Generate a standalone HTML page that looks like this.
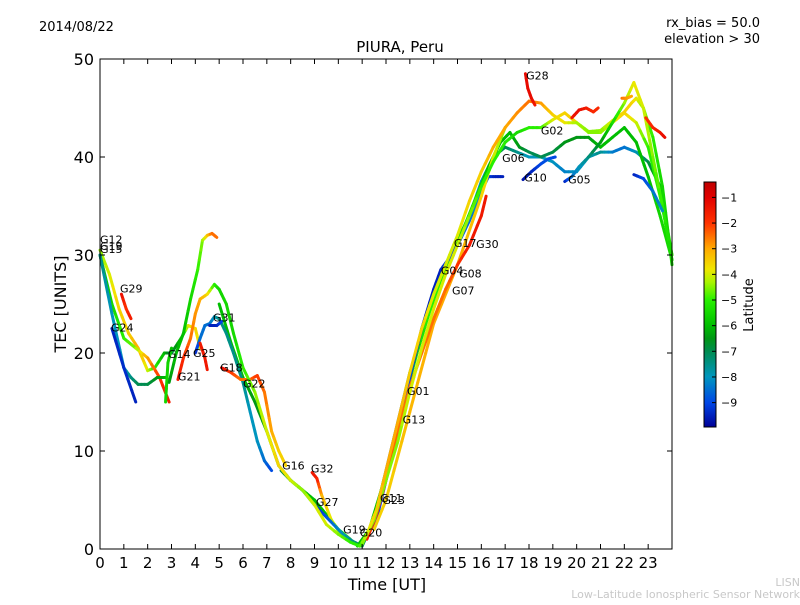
<!DOCTYPE html>
<html><head><meta charset="utf-8"><style>
body{margin:0;background:#fff;}
svg text{font-family:"DejaVu Sans","Liberation Sans",sans-serif;}
</style></head><body>
<svg id="chart" width="800" height="600" viewBox="0 0 800 600">
<defs>
<linearGradient id="jet" x1="0" y1="1" x2="0" y2="0"></linearGradient>
</defs>
<rect x="0" y="0" width="800" height="600" fill="#fff"/>
<text x="39" y="31" font-size="13">2014/08/22</text>
<text x="400" y="52" font-size="15" text-anchor="middle">PIURA, Peru</text>
<text x="760" y="27" font-size="13" text-anchor="end">rx_bias = 50.0</text>
<text x="760" y="43" font-size="13" text-anchor="end">elevation &gt; 30</text>
<g id="marks"></g>
<g id="labels"></g>
<rect x="100" y="59" width="572" height="490" fill="none" stroke="#000" stroke-width="1"/>
<g id="axes"></g>
<text x="387" y="590" font-size="16" text-anchor="middle">Time [UT]</text>
<text x="66" y="304" font-size="16" text-anchor="middle" transform="rotate(-90 66 304)">TEC [UNITS]</text>
<rect x="704" y="182" width="12" height="245" fill="url(#jet)" stroke="#000" stroke-width="1"/>
<g id="cbticks"></g>
<text x="753" y="305" font-size="13" text-anchor="middle" transform="rotate(-90 753 305)">Latitude</text>
<text x="800" y="586" font-size="11" fill="#c8c8c8" text-anchor="end">LISN</text>
<text x="800" y="598" font-size="11" fill="#c8c8c8" text-anchor="end">Low-Latitude Ionospheric Sensor Network</text>
</svg>
<script>
const xTicks=[0,1,2,3,4,5,6,7,8,9,10,11,12,13,14,15,16,17,18,19,20,21,22,23];
const yTicks=[0,10,20,30,40,50];
const cbTicks=[-1,-2,-3,-4,-5,-6,-7,-8,-9];
const g12T=[0,0.4,0.8,1.2,1.6,2.0,2.3,2.7,3.0,3.4,3.7,4.0,4.2],g12V=[30.5,28,24.5,22,20.5,18.2,18.5,20,20,21.5,22.8,22.5,20.5],g12L=[-4.5,-4,-3.5,-3.5,-3,-4,-5,-6,-7,-6,-4,-3.5,-4];
const g15T=[0,0.5,1,1.5,2,2.5,2.9],g15V=[30,25,21.5,20.5,19.5,17.5,15],g15L=[-6,-5.5,-5,-4.5,-3,-2,-1.5];
const g19T=[0,0.5,1,1.3,1.6,2,2.4,2.8],g19V=[30,24,18.5,17.5,16.8,16.8,17.5,17.5],g19L=[-7.5,-8,-8,-7.5,-7,-7,-6.5,-6];
const gDT=[2.75,2.85,3.0],gDV=[15,19,20.5],gDL=[-5.5,-5.5,-6];
const g24T=[0.5,1,1.5],g24V=[22.5,18.5,15],g24L=[-9.5,-9.3,-9.5];
const g29T=[0.9,1.1,1.3],g29V=[26,24.5,23.5],g29L=[-1.2,-2,-1.5];
const g21T=[3.27,3.5,3.8,4.0,4.2,4.5,4.8,5.0,5.3,5.6,6,6.5,7,7.5,8,8.5,9,9.5,10,10.5,10.9,11.2,11.6,12,12.5,13,13.5,14,14.5,15,15.5,16,16.5,17,17.5,18,18.5,19,19.5,20,20.5,21,21.5,22,22.3,22.5,22.8,23.2,23.6,24];
const g21V=[17.3,19.5,21.5,24,25.5,26,27,26.5,25,22,18.5,16,12,8.5,7,6,4.5,2.5,1.5,0.7,0.3,1.5,4,8,13,18,22.5,26,29,32,35.5,38.5,41,43,44.5,45.7,45.5,44.3,43.5,43.5,42.6,42.7,43.7,44.6,45.5,46,45,42,37,29];
const g21L=[-1.5,-1.8,-2.5,-2.8,-3,-3.5,-5,-5.5,-5.5,-5.5,-5,-4.5,-4,-3.5,-4,-4.5,-4,-4,-4.5,-5,-5,-4,-3.5,-3,-3,-3.5,-3.5,-4,-4,-4,-3.5,-3.5,-3,-3,-2.8,-2.5,-2.8,-3.5,-3.8,-4.3,-4.5,-4.5,-4,-3.5,-3.5,-3.8,-4.5,-5,-5.5,-5.5];
const g14T=[2.9,3.2,3.5,3.8,4.1,4.3,4.5,4.7,4.9],g14V=[17,20,22,25.5,28.5,31.5,32,32.2,31.8],g14L=[-6.5,-6,-6,-5.5,-5,-4.5,-3.5,-2.5,-2.5];
const g25T=[4.0,4.2,4.4,4.6,4.8,5.0,5.3,5.6,6.0,6.3,6.6,6.9,7.2],g25V=[20,21.5,22.8,23,23.7,23.5,22,20,17,14,11,9,8],g25L=[-9.5,-8.5,-8.5,-8.5,-8,-7.5,-7.5,-7.5,-7.5,-8,-8,-8.5,-9];
const g31T=[4.6,4.9,5.1],g31V=[22.8,22.8,23.2],g31L=[-9.5,-9.5,-9];
const gRT=[4.2,4.4,4.5],gRV=[21,19.5,18.3],gRL=[-1.5,-1.5,-1.5];
const g18T=[5.1,5.5,5.9,6.3,6.6,6.9,7.2,7.5,7.8],g18V=[18.5,18,17.3,17.3,17.7,16,12,10,8.5],g18L=[-1,-2,-2.5,-2.5,-2,-2.5,-3,-3.5,-3.5];
const g22T=[5.0,5.5,6.0,6.5,7.0,7.5,8.0,8.5,9.0],g22V=[25,21,17.5,15,12,8.5,7,6,4.5],g22L=[-6,-6,-6,-6.5,-6.5,-7,-7,-6.5,-6];
const g32T=[8.9,9.1,9.3,9.7,10.1,10.5,10.9],g32V=[7.8,7.2,5.5,3,1.5,0.8,0.3],g32L=[-1.5,-1.5,-3,-4,-4.5,-5,-5.5];
const g27T=[9.0,9.4,9.8,10.2,10.6,11.0],g27V=[4.5,3.5,2.5,1.5,0.8,0.3],g27L=[-9.5,-9,-8.5,-8,-7.5,-7];
const g16T=[7.6,8,8.5,9,9.5,10,10.5],g16V=[8,7,6,5,3.5,2,1],g16L=[-7,-6.5,-6,-6,-6,-5.5,-5];
const g01T=[11.2,11.6,12,12.5,13,13.5,14,14.5,15,15.5,16,16.2],g01V=[1,3.5,7,12,16.5,20,23.5,26.5,29,31,34,36],g01L=[-1.5,-2,-2,-2.5,-2.5,-2.5,-2.5,-2.5,-2,-1.5,-1.5,-1.5];
const g04T=[11.5,12,12.5,13,13.5,14,14.3,14.6,15,15.5,16,16.3,16.6,16.9],g04V=[2,7,12,17.5,22.5,26.5,28.5,29.5,31,33.5,36.5,38,38,38],g04L=[-9,-9,-9,-9,-9.5,-9.5,-9.5,-9,-9,-8.5,-8,-9,-9.5,-9.5];
const g10aT=[11,11.5,12,12.5,13,13.5,14,14.5,15,15.5,16,16.5,17,17.5,18,18.5,19,19.5,20,20.5,21,21.5,22,22.5,23,23.5,24];
const g10aV=[0.3,3,8,13,18,22,26,29,31.5,34,37.5,40,41,40.5,40,40,39.5,38.5,38.5,40,40.5,40.5,41,40.5,39.5,37,30];
const g10aL=[-7,-7.5,-8,-8,-8,-8,-8,-8,-8,-8,-8,-7.5,-7,-7.5,-8,-8,-8,-8.3,-8,-8,-7.5,-8.3,-8.5,-8,-7,-6,-5];
const g07T=[10.8,11.3,11.8,12.3,12.8,13.3,13.8,14.3,14.8,15.3,15.8,16.3,16.8,17.2,17.6,18,18.5,19,19.5,20,20.5,21,21.5,22,22.5,23,23.5,24];
const g07V=[0.3,2,6,10.5,15.5,20,24,27.5,30.5,33,36,39,41.5,42.5,41,40.5,40,40.5,41.5,42,42,41,42,43,41.5,38,34,29.5];
const g07L=[-6,-6,-6,-5.5,-5.5,-5.5,-5,-5,-5.5,-5.5,-5.5,-6,-6,-6,-6.5,-7,-7,-7,-6.5,-6.5,-6.5,-6,-6,-6,-6,-6,-5.5,-5.5];
const g02T=[11,11.5,12,12.5,13,13.5,14,14.5,15,15.5,16,16.5,17,17.5,18,18.5,19,19.5,20,20.5,21,21.5,22,22.5,23,23.5,24];
const g02V=[0.5,3,7,11,16,20.5,24.5,28,31,34,37,39.5,41.5,42.5,43,43,43.8,44.5,43.5,42.5,42.5,43.5,44.5,43.5,41,36,30];
const g02L=[-4.5,-4.5,-4.5,-4.5,-4,-4,-4,-4,-4,-4.5,-5,-5,-5,-5.5,-5,-5,-4,-3.5,-3.5,-4.5,-4.5,-4,-3.5,-4,-5,-5,-5];
const g10T=[17.75,18.1,18.5,18.8,19.1],g10V=[37.7,38.5,39.3,39.8,40],g10L=[-9.7,-9.5,-9,-8.8,-9];
const g05T=[19.5,19.8,20.1,20.5,21,21.5,22,22.4,22.8,23.2,23.6,24],g05V=[37.5,38,39,40,41.5,43.5,45.5,47.6,45,40,35,29.5],g05L=[-9.5,-8.5,-8,-7.5,-6.5,-5.5,-4.5,-3.8,-4,-4.5,-5,-5.5];
const g28T=[17.85,17.95,18.1,18.25],g28V=[48.5,47,46,45.3],g28L=[-1.2,-1.2,-1.2,-1.5];
const gR2T=[19.8,20.1,20.4,20.7,20.9],gR2V=[44,44.8,45,44.6,45],gR2L=[-1.5,-1.2,-1.5,-1.8,-1.8];
const gO2T=[21.9,22.1,22.3],gO2V=[46,46,46.2],gO2L=[-2.5,-2.8,-3];
const gR3T=[22.9,23.2,23.5,23.7],gR3V=[44,43,42.5,42],gR3L=[-2,-1.8,-1.5,-1.2];
const gB3T=[22.4,22.8,23.2,23.6],gB3V=[38.2,37.8,36.5,34.5],gB3L=[-9.5,-9,-8.5,-8];
const g30T=[11.5,12,13,14,15,16,16.5,17],g30V=[2,5,14,23,29,36,40,43],g30L=[-3.5,-3.5,-3.2,-3,-3,-3.5,-4,-4.5];
const tracks=[[g12T,g12V,g12L],[g15T,g15V,g15L],[g19T,g19V,g19L],[gDT,gDV,gDL],[g24T,g24V,g24L],[g29T,g29V,g29L],[g14T,g14V,g14L],[g22T,g22V,g22L],[g16T,g16V,g16L],[g25T,g25V,g25L],[g31T,g31V,g31L],[gRT,gRV,gRL],[g18T,g18V,g18L],[g32T,g32V,g32L],[g27T,g27V,g27L],[g10aT,g10aV,g10aL],[g07T,g07V,g07L],[g04T,g04V,g04L],[g30T,g30V,g30L],[g01T,g01V,g01L],[g02T,g02V,g02L],[g21T,g21V,g21L],[g10T,g10V,g10L],[g05T,g05V,g05L],[g28T,g28V,g28L],[gR2T,gR2V,gR2L],[gO2T,gO2V,gO2L],[gR3T,gR3V,gR3L],[gB3T,gB3V,gB3L]];
const labelNames=["G12","G15","G19","G29","G24","G14","G25","G21","G31","G18","G22","G16","G32","G27","G19","G20","G11","G23","G01","G13","G04","G08","G07","G17","G30","G06","G02","G10","G05","G28"];
const labelT=[0,0,0,0.84,0.46,2.85,3.9,3.27,4.74,5.04,6.0,7.64,8.85,9.06,10.2,10.9,11.75,11.85,12.88,12.7,14.3,15.07,14.77,14.85,15.78,16.87,18.5,17.8,19.64,17.88];
const labelV=[31.6,30.6,30.9,26.6,22.6,19.9,20,17.6,23.6,18.5,16.9,8.5,8.2,4.8,2.0,1.7,5.2,5.0,16.1,13.2,28.4,28.1,26.4,31.2,31.1,39.9,42.7,37.9,37.7,48.3];
const X0=100,X1=672,Y0=549,Y1=59,XMAX=24,YMAX=50;
function xs(t){return X0+(X1-X0)*t/XMAX;}
function ys(v){return Y0-(Y0-Y1)*v/YMAX;}
const LMIN=-9.95,LMAX=-0.4;
const CS=[[-9.95,[0,0,150]],[-9,[0,70,230]],[-8,[0,150,190]],[-7,[0,140,80]],[-6.5,[0,150,20]],[-6,[0,190,0]],[-5,[40,240,0]],[-4.3,[170,245,0]],[-3.8,[240,230,0]],[-3,[255,170,0]],[-2,[255,50,0]],[-1,[225,0,0]],[-0.4,[190,0,0]]];
function lc(l){
 if(l<=CS[0][0])return 'rgb('+CS[0][1].join(',')+')';
 for(let i=0;i<CS.length-1;i++){const a=CS[i],b=CS[i+1];
  if(l<=b[0]){const f=(l-a[0])/(b[0]-a[0]);const c=a[1].map((v,k)=>Math.round(v+(b[1][k]-v)*f));return 'rgb('+c.join(',')+')';}}
 return 'rgb('+CS[CS.length-1][1].join(',')+')';}
const NS="http://www.w3.org/2000/svg";
const grad=document.getElementById('jet');
CS.forEach(s=>{const st=document.createElementNS(NS,'stop');st.setAttribute('offset',(s[0]-LMIN)/(LMAX-LMIN));st.setAttribute('stop-color','rgb('+s[1].join(',')+')');grad.appendChild(st);});
const marks=document.getElementById('marks');
tracks.forEach((tr,k)=>{
 const [T,V,L]=tr;
 const g=document.createElementNS(NS,'g');
 
 
 for(let i=0;i<T.length-1;i++){
  for(let s=0;s<3;s++){
   const a=s/3,b=(s+1)/3;
   const ln=document.createElementNS(NS,'line');
   ln.setAttribute('x1',xs(T[i]+(T[i+1]-T[i])*a));ln.setAttribute('y1',ys(V[i]+(V[i+1]-V[i])*a));
   ln.setAttribute('x2',xs(T[i]+(T[i+1]-T[i])*b));ln.setAttribute('y2',ys(V[i]+(V[i+1]-V[i])*b));
   ln.setAttribute('stroke',lc(L[i]+(L[i+1]-L[i])*(a+b)/2));
   ln.setAttribute('stroke-width','3');ln.setAttribute('stroke-linecap','round');
   
   
   g.appendChild(ln);
  }
 }
 marks.appendChild(g);
});
const labels=document.getElementById('labels');
labelNames.forEach((n,i)=>{
 const t=document.createElementNS(NS,'text');
 t.setAttribute('x',xs(labelT[i]));t.setAttribute('y',ys(labelV[i])+4);
 t.setAttribute('font-size','11');t.textContent=n;
 
 
 labels.appendChild(t);
});
const axes=document.getElementById('axes');
function mk(tag,attrs,txt){const e=document.createElementNS(NS,tag);for(const k in attrs)e.setAttribute(k,attrs[k]);if(txt!==undefined)e.textContent=txt;axes.appendChild(e);return e;}
xTicks.forEach(t=>{const x=xs(t);
 const a=mk('line',{x1:x,y1:Y0,x2:x,y2:Y0-5,stroke:'#000'});
 const b=mk('line',{x1:x,y1:Y1,x2:x,y2:Y1+5,stroke:'#000'});
 const l=mk('text',{x:x,y:568,'font-size':15,'text-anchor':'middle'},String(t));
});
yTicks.forEach(v=>{const y=ys(v);
 const a=mk('line',{x1:X0,y1:y,x2:X0+5,y2:y,stroke:'#000'});
 const b=mk('line',{x1:X1,y1:y,x2:X1-5,y2:y,stroke:'#000'});
 const l=mk('text',{x:94,y:y+6,'font-size':16,'text-anchor':'end'},String(v));
});
const cb=document.getElementById('cbticks');
cbTicks.forEach(v=>{const y=427-245*(v-LMIN)/(LMAX-LMIN);
 const ln=document.createElementNS(NS,'line');ln.setAttribute('x1',712);ln.setAttribute('x2',716);ln.setAttribute('y1',y);ln.setAttribute('y2',y);ln.setAttribute('stroke','#000');
 
 
 cb.appendChild(ln);
 const t=document.createElementNS(NS,'text');t.setAttribute('x',721);t.setAttribute('y',y+4);t.setAttribute('font-size','11');t.textContent='\u2212'+Math.abs(v);
 
 
 cb.appendChild(t);
});
</script>
</body></html>
